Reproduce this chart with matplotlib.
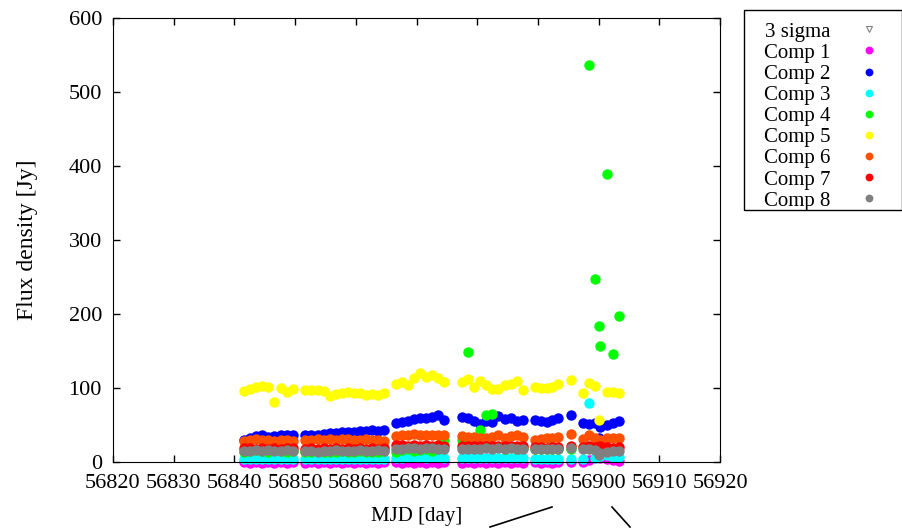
import numpy as np
import matplotlib
matplotlib.use("Agg")
import matplotlib.pyplot as plt
from matplotlib.lines import Line2D
from matplotlib.patches import Rectangle

plt.rcParams['font.family'] = ['Liberation Serif', 'DejaVu Serif']
plt.rcParams['font.size'] = 16

nan = np.nan

# observation dates (MJD)
mjd = [56841.6, 56842.6, 56843.6, 56844.6, 56845.6, 56846.6, 56847.6, 56848.6, 56849.6,
       56851.7, 56852.7, 56853.7, 56854.7, 56855.7, 56856.7, 56857.7, 56858.7, 56859.7,
       56860.7, 56861.7, 56862.7, 56863.7, 56864.7,
       56866.6, 56867.6, 56868.6, 56869.6, 56870.6, 56871.6, 56872.6, 56873.6, 56874.6,
       56877.5, 56878.5, 56879.5, 56880.5, 56881.5, 56882.5, 56883.5, 56884.5, 56885.5,
       56886.5, 56887.5,
       56889.5, 56890.5, 56891.5, 56892.4, 56893.3,
       56895.5, 56897.4, 56898.4, 56899.4, 56900.1, 56900.3, 56901.4, 56902.3, 56903.4]

comp1 = [0, -1, 0, -1, 0, -1, 0, -1, 0,
         -1, 0, -1, 0, -1, 0, -1, 0, -1, 0, -1, 0, -1, 0,
         0, -1, 0, -1, 0, -1, 0, -1, 0,
         -1, 0, -1, 0, -1, 0, -1, 0, -1, 0, -1,
         0, -1, 0, -1, 0,
         0, 0, 3, 5, 8, 6, 4, 3, 2]
comp2 = [30, 33, 35, 36, 34, 35, 37, 37, 36,
         36, 37, 37, 38, 39, 39, 40, 40, 41, 42, 42, 43, 42, 43,
         53, 54, 55, 58, 60, 59, 61, 63, 57,
         61, 60, 56, 52, 55, 54, 62, 58, 60, 56, 57,
         57, 55, 54, 57, 59,
         63, 53, 52, 53, 32, 47, 50, 53, 55]
comp3 = [4, 4, 4, 4, 4, 4, 4, 4, 4,
         4, 4, 4, 4, 4, 4, 4, 4, 4, 4, 4, 4, 4, 4,
         6, 6, 7, 7, 7, 6, 7, 7, 6,
         5, 5, 5, 5, 5, 5, 5, 5, 5, 5, 5,
         4, 4, 4, 4, 4,
         4, 4, 80, 6, 14, 8, 10, 7, 7]
comp4 = [14, 15, 16, 15, 14, 16, 15, 14, 15,
         13, 14, 15, 14, 13, 14, 15, 14, 13, 15, 14, 13, 14, 15,
         14, 16, 17, 15, 16, 17, 15, 18, 30,
         30, 148, 25, 43, 63, 65, 20, 18, 20, 18, 19,
         17, 18, 17, 18, 17,
         18, 20, 536, 247, 184, 157, 389, 146, 197]
comp5 = [96, 99, 102, 103, 102, 81, 100, 95, 99,
         97, 97, 97, 96, 89, 92, 93, 95, 93, 93, 90, 92, 90, 93,
         105, 108, 104, 113, 120, 115, 117, 114, 108,
         108, 112, 101, 110, 104, 99, 99, 104, 106, 110, 97,
         101, 100, 100, 101, 105,
         111, 93, 107, 103, 57, nan, 95, 95, 93]
comp6 = [29, 30, 31, 30, 30, 29, 30, 30, 29,
         30, 30, 31, 30, 31, 30, 31, 31, 30, 30, 31, 30, 30, 29,
         35, 36, 37, 38, 37, 37, 36, 37, 36,
         35, 34, 34, 32, 33, 34, 36, 33, 35, 36, 34,
         30, 31, 32, 33, 34,
         38, 31, 36, 32, 20, 30, 33, 33, 33]
comp7 = [19, 19, 18, 19, 18, 19, 18, 19, 19,
         18, 19, 18, 19, 18, 19, 18, 19, 18, 19, 18, 19, 18, 19,
         23, 23, 22, 23, 22, 23, 22, 23, 22,
         22, 22, 21, 22, 21, 22, 21, 22, 21, 22, 21,
         20, 20, 19, 20, 20,
         21, 20, 21, 20, 19, 21, 20, 19, 20]
comp8 = [15, 15, 16, 15, 16, 15, 15, 16, 15,
         15, 15, 14, 15, 15, 16, 15, 15, 15, 16, 15, 15, 16, 15,
         18, 18, 19, 19, 18, 19, 19, 18, 18,
         18, 17, 18, 18, 19, 18, 19, 18, 19, 18, 18,
         18, 18, 17, 18, 18,
         19, 18, 17, 16, 10, 12, 14, 15, 15]

comps = [comp1, comp2, comp3, comp4, comp5, comp6, comp7, comp8]
labels = ['Comp %d' % (i + 1) for i in range(8)]
colors = ['#ff00ff', '#0000ff', '#00ffff', '#00ff00', '#ffff00', '#ff5000', '#ff0000', '#808080']

fig = plt.figure(figsize=(9.03, 5.28), dpi=100)
ax = fig.add_axes([113/903, 1 - 462/528, (720-113)/903, (462-18)/528])

# 3 sigma upper limits (none inside the plotted range)
ax.plot([], [], linestyle='none', marker='v', markersize=6, markerfacecolor='white',
        markeredgecolor='#808080', markeredgewidth=0.8, label='3 sigma')
for y, c, lab in zip(comps, colors, labels):
    ax.plot(mjd, y, linestyle='none', marker='o', markersize=7.5, color=c,
            markeredgewidth=0, label=lab, clip_on=False)

ax.set_xlim(56820, 56920)
ax.set_ylim(0, 600)
ax.set_xticks(np.arange(56820, 56921, 10))
ax.set_yticks(np.arange(0, 601, 100))
ax.tick_params(direction='in', length=5, width=1, top=True, right=True)
ax.tick_params(axis='x', pad=9)
ax.tick_params(axis='y', pad=8)
ax.set_xlabel('MJD [day]', fontsize=15, labelpad=10)
ax.set_ylabel('Flux density [Jy]', fontsize=17, labelpad=22)

# key: gnuplot style, text right-justified, sample on the right
handles, labs = ax.get_legend_handles_labels()
leg = fig.legend(handles, labs, loc='upper left', bbox_to_anchor=(764/903, 1 - 22/528),
                 bbox_transform=fig.transFigure, borderaxespad=0, borderpad=0,
                 markerfirst=False, frameon=False, fontsize=15, labelspacing=0.075,
                 handletextpad=0.87, markerscale=0.75, handlelength=2.0)
for t in leg.get_texts():
    t.set_ha('right')
fig.add_artist(Rectangle((744/903, 1 - 210/528), (902 - 744)/903, 200/528,
                         transform=fig.transFigure, fill=False, edgecolor='black', lw=1))

# connector lines below the axes
fig.add_artist(Line2D([490/903, 552/903], [1 - 527/528, 1 - 507/528], color='black', lw=1.2))
fig.add_artist(Line2D([612/903, 630/903], [1 - 507/528, 1 - 527/528], color='black', lw=1.2))

fig.savefig('out.png', dpi=100)
